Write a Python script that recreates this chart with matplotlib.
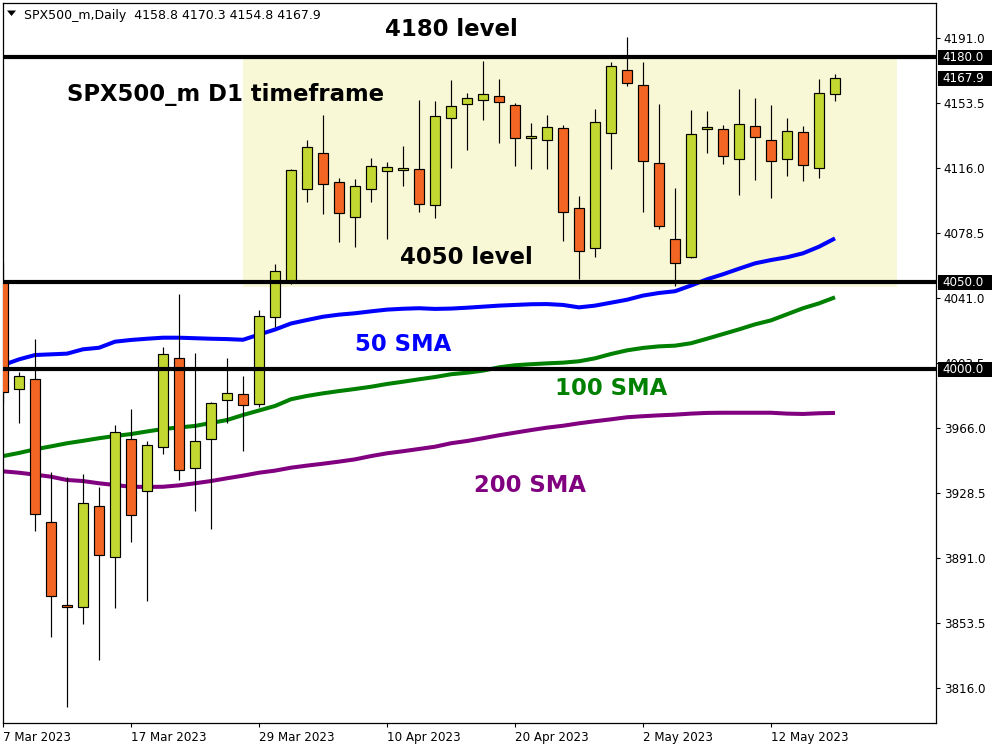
import matplotlib
matplotlib.use("Agg")
import matplotlib.pyplot as plt
from matplotlib.patches import Rectangle, Polygon
import matplotlib.transforms as mtransforms

plt.rcParams['font.family'] = ['DejaVu Sans']

# ---------------- data ----------------
dates = [
    "2023-03-07", "2023-03-08", "2023-03-09", "2023-03-10", "2023-03-13", "2023-03-14",
    "2023-03-15", "2023-03-16", "2023-03-17", "2023-03-20", "2023-03-21", "2023-03-22",
    "2023-03-23", "2023-03-24", "2023-03-27", "2023-03-28", "2023-03-29", "2023-03-30",
    "2023-03-31", "2023-04-03", "2023-04-04", "2023-04-05", "2023-04-06", "2023-04-07",
    "2023-04-10", "2023-04-11", "2023-04-12", "2023-04-13", "2023-04-14", "2023-04-17",
    "2023-04-18", "2023-04-19", "2023-04-20", "2023-04-21", "2023-04-24", "2023-04-25",
    "2023-04-26", "2023-04-27", "2023-04-28", "2023-05-01", "2023-05-02", "2023-05-03",
    "2023-05-04", "2023-05-05", "2023-05-08", "2023-05-09", "2023-05-10", "2023-05-11",
    "2023-05-12", "2023-05-15", "2023-05-16", "2023-05-17", "2023-05-18",
]

opens = [
    4050.4, 3988.3, 3994.1, 3911.6, 3863.7, 3862.5, 3920.8, 3891.4, 3959.5, 3929.5,
    3954.9, 4006.2, 3942.7, 3959.5, 3982.0, 3985.4, 3979.7, 4029.9, 4051.0, 4103.7,
    4124.5, 4107.7, 4087.6, 4103.7, 4114.1, 4114.8, 4115.3, 4094.5, 4145.0, 4152.7,
    4155.4, 4157.4, 4152.2, 4133.1, 4132.0, 4138.9, 4092.7, 4069.7, 4136.0, 4172.4,
    4163.7, 4118.7, 4074.9, 4064.5, 4138.3, 4138.3, 4121.0, 4140.1, 4132.0, 4121.0,
    4136.6, 4115.8, 4158.8,
]
highs = [
    4061.9, 3998.5, 4017.2, 3940.4, 3937.6, 3939.5, 3932.0, 3967.7, 3977.0, 3958.3,
    4012.7, 4043.3, 4009.3, 3981.2, 4006.4, 3996.0, 4033.9, 4060.6, 4115.4, 4132.2,
    4146.4, 4110.2, 4109.5, 4121.6, 4119.3, 4128.7, 4155.2, 4154.7, 4166.6, 4159.1,
    4177.6, 4167.2, 4153.3, 4141.8, 4146.4, 4140.8, 4099.8, 4149.9, 4177.0, 4191.6,
    4177.0, 4152.7, 4104.3, 4149.5, 4148.9, 4140.6, 4161.4, 4156.2, 4152.2, 4144.7,
    4140.1, 4167.2, 4170.3,
]
lows = [
    3980.2, 3969.1, 3906.8, 3845.6, 3805.2, 3853.1, 3832.3, 3862.3, 3900.4, 3866.4,
    3951.2, 3936.2, 3918.3, 3907.6, 3969.1, 3952.9, 3978.3, 4024.4, 4049.0, 4096.4,
    4089.6, 4073.5, 4070.6, 4096.6, 4075.2, 4105.8, 4090.8, 4087.3, 4116.2, 4126.6,
    4143.9, 4130.6, 4117.3, 4115.6, 4115.6, 4074.1, 4052.1, 4064.8, 4115.6, 4163.5,
    4090.8, 4081.0, 4048.1, 4064.0, 4124.8, 4118.5, 4100.6, 4109.2, 4098.9, 4111.6,
    4108.7, 4110.4, 4154.8,
]
closes = [
    3986.9, 3995.8, 3916.2, 3868.9, 3862.5, 3922.6, 3892.6, 3963.9, 3915.6, 3956.0,
    4008.5, 3941.6, 3958.3, 3980.2, 3986.0, 3979.1, 4030.4, 4056.4, 4114.7, 4127.9,
    4106.9, 4089.9, 4105.4, 4117.0, 4116.4, 4116.0, 4095.1, 4145.8, 4151.6, 4156.2,
    4158.5, 4153.9, 4133.5, 4134.3, 4139.5, 4090.8, 4067.9, 4142.4, 4174.7, 4164.9,
    4119.9, 4082.4, 4061.0, 4135.4, 4139.5, 4122.7, 4141.2, 4133.7, 4119.9, 4137.2,
    4117.6, 4159.1, 4167.9,
]

sma50 = [
    4002.3, 4005.6, 4008.1, 4008.5, 4008.9, 4011.4, 4012.3, 4015.8, 4016.8, 4017.5,
    4018.1, 4018.1, 4017.8, 4017.5, 4017.3, 4016.9, 4019.9, 4022.8, 4026.3, 4028.3,
    4030.2, 4031.4, 4032.2, 4033.3, 4034.3, 4034.8, 4035.1, 4034.7, 4034.9, 4035.4,
    4036.0, 4036.6, 4037.0, 4037.4, 4037.5, 4037.0, 4035.6, 4036.6, 4038.3, 4040.0,
    4042.4, 4043.9, 4044.9, 4048.2, 4051.8, 4054.7, 4057.9, 4061.0, 4062.9, 4064.5,
    4066.8, 4070.6, 4075.4,
]
sma100 = [
    3949.8, 3951.6, 3953.7, 3955.4, 3957.2, 3958.6, 3960.1, 3961.4, 3962.5, 3964.0,
    3965.4, 3966.3, 3967.2, 3968.9, 3970.6, 3973.5, 3976.1, 3978.7, 3982.6, 3984.5,
    3986.0, 3987.3, 3988.5, 3989.8, 3991.4, 3992.7, 3994.1, 3995.4, 3997.0, 3997.9,
    3999.1, 4001.0, 4002.2, 4002.8, 4003.3, 4003.7, 4004.5, 4006.2, 4008.7, 4010.8,
    4012.2, 4013.1, 4013.5, 4014.9, 4017.5, 4020.2, 4022.9, 4025.8, 4028.1, 4031.6,
    4035.1, 4037.9, 4041.4,
]
sma200 = [
    3941.0, 3940.2, 3939.1, 3937.9, 3936.0, 3935.4, 3934.1, 3933.1, 3932.1, 3932.0,
    3932.1, 3932.9, 3934.1, 3935.4, 3937.0, 3938.5, 3940.2, 3941.4, 3943.1, 3944.3,
    3945.4, 3946.6, 3947.9, 3949.8, 3951.4, 3952.6, 3953.9, 3955.2, 3957.2, 3958.5,
    3960.1, 3961.8, 3963.3, 3964.8, 3966.2, 3967.3, 3968.7, 3969.9, 3971.0, 3972.2,
    3972.8, 3973.3, 3973.7, 3974.3, 3974.7, 3974.8, 3974.8, 3974.8, 3974.8, 3974.3,
    3974.1, 3974.5, 3974.7,
]

levels = [4180.0, 4050.0, 4000.0]
level_labels = ["4180.0", "4050.0", "4000.0"]
last_price = 4167.9
last_label = "4167.9"

zone_low, zone_high = 4047.5, 4180.0
zone_start_date, zone_end_bars = "2023-03-28", 55.9

y_ticks = [4191.0, 4153.5, 4116.0, 4078.5, 4041.0, 4003.5, 3966.0, 3928.5, 3891.0, 3853.5, 3816.0]
x_tick_dates = ["2023-03-07", "2023-03-17", "2023-03-29", "2023-04-10", "2023-04-20", "2023-05-02", "2023-05-12"]
x_tick_labels = ["7 Mar 2023", "17 Mar 2023", "29 Mar 2023", "10 Apr 2023", "20 Apr 2023", "2 May 2023", "12 May 2023"]

header = "SPX500_m,Daily  4158.8 4170.3 4154.8 4167.9"

# ---------------- style ----------------
BULL = "#C3D731"
BEAR = "#F26522"
ZONE = "#F8F8D6"

fig = plt.figure(figsize=(10, 7.5), dpi=100)
ax = fig.add_axes([0.003, 0.036, 0.933, 0.96])
ax.set_xlim(0, 933 / 16)
ax.set_ylim(3795.8, 4211.2)

idx = list(range(len(dates)))

# zone
zx0 = dates.index(zone_start_date) - 0.0
ax.add_patch(Rectangle((zx0, zone_low), zone_end_bars - zx0, zone_high - zone_low,
                       facecolor=ZONE, edgecolor="none", zorder=0))

# SMAs
ax.plot(idx, sma200, color="#800080", lw=2.9, zorder=1.5, solid_capstyle="butt")
ax.plot(idx, sma100, color="#008000", lw=2.9, zorder=1.5, solid_capstyle="butt")
ax.plot(idx, sma50, color="#0000FF", lw=2.9, zorder=1.5, solid_capstyle="butt")

# candles
bw = 0.58
for i, o, h, l, c in zip(idx, opens, highs, lows, closes):
    ax.plot([i, i], [l, h], color="black", lw=0.85, zorder=2, solid_capstyle="butt")
    bottom = min(o, c)
    height = max(abs(c - o), 0.6)
    ax.add_patch(Rectangle((i - bw / 2, bottom), bw, height,
                           facecolor=BULL if c >= o else BEAR,
                           edgecolor="black", lw=0.85, zorder=3))

# horizontal levels
for lv in levels:
    ax.axhline(lv, color="black", lw=3.0, zorder=4)

# annotation texts
tk = dict(fontweight="bold", fontsize=16.4, transform=ax.transAxes, ha="left",
          va="baseline", zorder=6)
ax.text(0.4094, 0.9542, "4180 level", color="black", **tk)
ax.text(0.0686, 0.8639, "SPX500_m D1 timeframe", color="black", **tk)
ax.text(0.4255, 0.6375, "4050 level", color="black", **tk)
ax.text(0.3773, 0.5171, "50 SMA", color="#0000FF", **tk)
ax.text(0.5916, 0.4556, "100 SMA", color="#008000", **tk)
ax.text(0.5048, 0.3213, "200 SMA", color="#800080", **tk)

# axes styling
for sp in ax.spines.values():
    sp.set_linewidth(0.9)
    sp.set_color("black")
ax.yaxis.tick_right()
ax.set_yticks(y_ticks)
ax.set_yticklabels([f"{v:.1f}" for v in y_ticks])
ax.set_xticks([dates.index(d) for d in x_tick_dates])
ax.set_xticklabels(x_tick_labels)
for lab in ax.get_xticklabels():
    lab.set_horizontalalignment("left")
ax.tick_params(axis="both", direction="out", length=3.0, width=0.8,
               labelsize=8.6, pad=2.5, colors="black")

# price boxes on right axis
trans = mtransforms.blended_transform_factory(ax.transAxes, ax.transData)
box_h = 15 / 1.7333
for val, lab in list(zip(levels, level_labels)) + [(last_price, last_label)]:
    ax.add_patch(Rectangle((1 + 1.5 / 933, val - box_h / 2), 54 / 933, box_h,
                           transform=trans, facecolor="black", edgecolor="none",
                           clip_on=False, zorder=7))
    ax.text(1 + 6.5 / 933, val, lab, transform=trans, color="white", fontsize=8.6,
            ha="left", va="center", clip_on=False, zorder=8)

# header
fig.patches.append(Polygon([[7 / 1000, 1 - 10.5 / 750], [16 / 1000, 1 - 10.5 / 750],
                            [11.5 / 1000, 1 - 16 / 750]], closed=True,
                           transform=fig.transFigure, facecolor="black",
                           edgecolor="none"))
fig.text(24 / 1000, 1 - 19 / 750, header, fontsize=9, ha="left", va="baseline",
         color="black")

fig.savefig("out.png", dpi=100, facecolor="white")
